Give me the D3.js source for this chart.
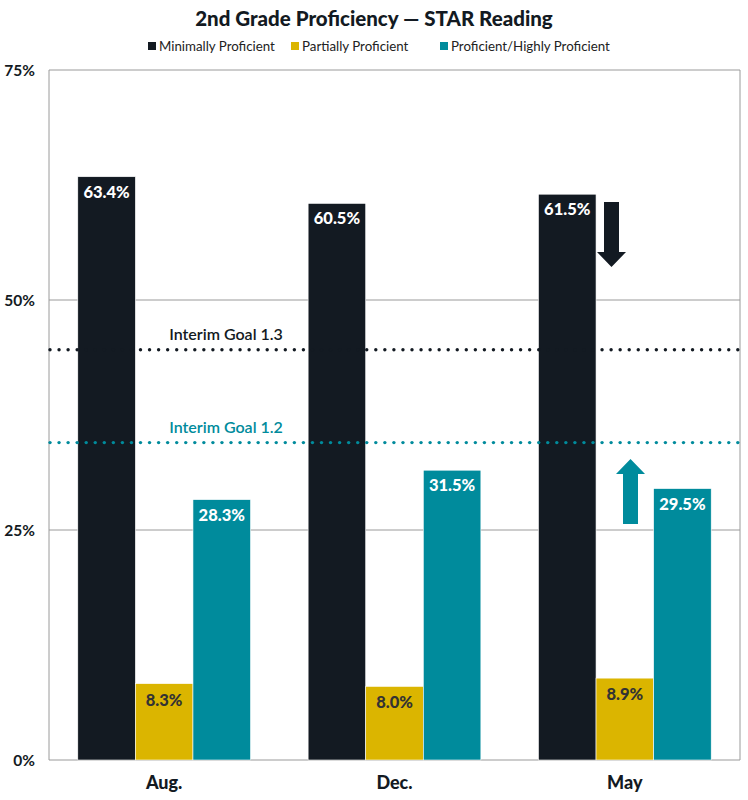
<!DOCTYPE html>
<html><head><meta charset="utf-8">
<script src="https://cdn.jsdelivr.net/npm/d3@7"></script>
<style>body{margin:0;background:#fff}svg{display:block}</style>
</head><body>
<script>
const categories = ["Aug.", "Dec.", "May"];
const seriesNames = ["Minimally Proficient", "Partially Proficient", "Proficient/Highly Proficient"];
const minimally = [63.4, 60.5, 61.5];
const partially = [8.3, 8.0, 8.9];
const proficient = [28.3, 31.5, 29.5];
const yTicks = [0, 25, 50, 75];
const goals = [{label: "Interim Goal 1.3", value: 44.6}, {label: "Interim Goal 1.2", value: 34.5}];

const colors = ["#131a22", "#dbb500", "#008b9c"];
const labelColors = ["#ffffff", "#333333", "#ffffff"];
const goalColors = ["#131a22", "#008b9c"];
const series = [minimally, partially, proficient];

const W = 748, H = 800;
const m = {left: 49, right: 8, top: 70, bottom: 40};
const font = "Lato, 'Open Sans', sans-serif";

const svg = d3.select("body").append("svg").attr("width", W).attr("height", H);

const x = d3.scaleBand().domain(categories).range([m.left, W - m.right]).paddingInner(0.25).paddingOuter(0.125);
const xs = d3.scaleBand().domain(d3.range(3)).range([0, x.bandwidth()]);
const y = d3.scaleLinear().domain([0, 75]).range([H - m.bottom, m.top]);

// title
svg.append("text").attr("x", W/2).attr("y", 26).attr("text-anchor", "middle")
  .attr("font-family", font).attr("font-weight", 900).attr("font-size", 20.5).attr("fill", "#131a22")
  .text("2nd Grade Proficiency \u2014 STAR Reading");

// legend
const legX = [148, 291, 440];
seriesNames.forEach((n, i) => {
  const g = svg.append("g").attr("transform", `translate(${legX[i]},51)`);
  g.append("rect").attr("x", 0).attr("y", -9).attr("width", 8).attr("height", 8).attr("fill", colors[i]);
  g.append("text").attr("x", 11).attr("y", 0).attr("font-family", font).attr("font-size", 13.3)
    .attr("fill", "#222").text(n);
});

// gridlines
svg.append("g").selectAll("line").data(yTicks).join("line")
  .attr("x1", m.left).attr("x2", W - m.right)
  .attr("y1", d => y(d)).attr("y2", d => y(d))
  .attr("stroke", "#9a9a9a").attr("stroke-width", 1);
// frame sides
svg.append("line").attr("x1", m.left).attr("x2", m.left).attr("y1", y(75)).attr("y2", y(0)).attr("stroke", "#9a9a9a");
svg.append("line").attr("x1", W - m.right).attr("x2", W - m.right).attr("y1", y(75)).attr("y2", y(0)).attr("stroke", "#9a9a9a");

// y tick labels
svg.append("g").selectAll("text").data(yTicks).join("text")
  .attr("x", 35).attr("y", d => y(d) + 5.5).attr("text-anchor", "end")
  .attr("font-family", font).attr("font-weight", 700).attr("font-size", 15.5).attr("fill", "#131a22")
  .text(d => d + "%");

// bars
series.forEach((vals, si) => {
  const g = svg.append("g");
  g.selectAll("rect").data(vals).join("rect")
    .attr("x", (d, i) => x(categories[i]) + xs(si))
    .attr("y", d => y(d))
    .attr("width", xs.bandwidth())
    .attr("height", d => y(0) - y(d))
    .attr("fill", colors[si])
    .attr("stroke", "#ffffff").attr("stroke-width", 0.6);
  g.selectAll("text").data(vals).join("text")
    .attr("x", (d, i) => x(categories[i]) + xs(si) + xs.bandwidth()/2)
    .attr("y", d => y(d) + (si === 1 ? 22 : 21))
    .attr("text-anchor", "middle")
    .attr("font-family", font).attr("font-weight", 900).attr("font-size", 16.5)
    .attr("fill", labelColors[si])
    .text(d => d.toFixed(1) + "%");
});

// goal lines
goals.forEach((gl, i) => {
  const yy = y(gl.value);
  svg.append("g").selectAll("circle").data(d3.range(m.left + 1, W - m.right + 1, 9.05)).join("circle")
    .attr("cx", d => d).attr("cy", yy).attr("r", 1.7).attr("fill", goalColors[i]);
  svg.append("text").attr("x", 226).attr("y", yy - 10).attr("text-anchor", "middle")
    .attr("font-family", font).attr("font-weight", 600).attr("font-size", 16).attr("fill", goalColors[i])
    .text(gl.label);
});

// arrows
const down = [[604,202],[619,202],[619,252],[626,252],[611.5,267],[597,252],[604,252]];
svg.append("polygon").attr("points", down.map(p => p.join(",")).join(" ")).attr("fill", "#131a22");
const up = [[623,524],[638,524],[638,474],[645,474],[630.5,459],[616,474],[623,474]];
svg.append("polygon").attr("points", up.map(p => p.join(",")).join(" ")).attr("fill", "#008b9c");

// x labels
svg.append("g").selectAll("text").data(categories).join("text")
  .attr("x", d => x(d) + x.bandwidth()/2).attr("y", H - 11).attr("text-anchor", "middle")
  .attr("font-family", font).attr("font-weight", 900).attr("font-size", 18).attr("fill", "#131a22")
  .text(d => d);
</script>
</body></html>
